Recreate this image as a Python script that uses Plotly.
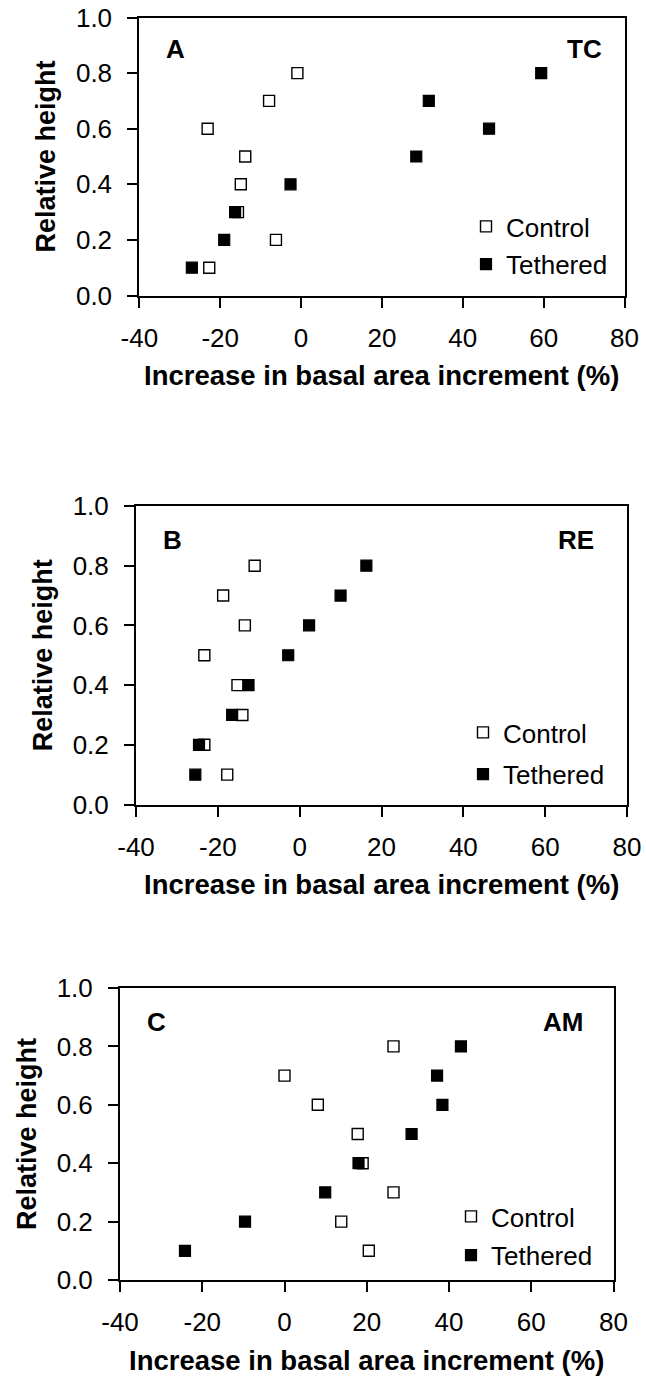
import plotly.graph_objects as go

# Relative sampling heights along the stem
heights = [0.1, 0.2, 0.3, 0.4, 0.5, 0.6, 0.7, 0.8]

# Increase in basal area increment (%) per species and treatment
tc_control = [-22.7, -6.2, -15.6, -14.9, -13.8, -23.1, -7.9, -0.9]
tc_tethered = [-27.0, -19.0, -16.3, -2.6, 28.5, 46.5, 31.6, 59.4]

re_control = [-17.7, -23.3, -14.0, -15.2, -23.3, -13.4, -18.7, -11.0]
re_tethered = [-25.5, -24.6, -16.5, -12.5, -2.8, 2.3, 10.0, 16.3]

am_control = [20.5, 13.8, 26.5, 19.0, 17.8, 8.1, 0.0, 26.5]
am_tethered = [-24.2, -9.6, 9.9, 18.0, 30.9, 38.4, 37.1, 42.9]

panel_letters = ["A", "B", "C"]
species_codes = ["TC", "RE", "AM"]
series_names = ["Control", "Tethered"]

x_ticks = [-40, -20, 0, 20, 40, 60, 80]
x_tick_text = ["-40", "-20", "0", "20", "40", "60", "80"]
y_ticks = [0.0, 0.2, 0.4, 0.6, 0.8, 1.0]
x_title = "Increase in basal area increment (%)"
y_title = "Relative height"

W, H = 646, 1377
FONT = "Liberation Sans, Arial, Helvetica, sans-serif"

# Plot frames in pixels: (left, right, top, bottom)
frames = [
    (139.3, 624.5, 17.5, 295.5),
    (136.0, 627.0, 506.0, 804.5),
    (120.0, 613.5, 988.0, 1280.0),
]
# Legend anchor (pixels, left / top of first entry) and row gap
legend_pos = [(466, 203, 1), (463, 709, 5), (451, 1193, 2)]
# Right edge of species code, in data units
code_x = [75.0, 72.5, 73.0]

panels = [
    (tc_control, tc_tethered),
    (re_control, re_tethered),
    (am_control, am_tethered),
]

fig = go.Figure()

for i, (ctrl, teth) in enumerate(panels):
    n = "" if i == 0 else str(i + 1)
    legend_name = "legend" + n
    fig.add_trace(go.Scatter(
        x=ctrl, y=heights, mode="markers", name=series_names[0],
        xaxis="x" + n, yaxis="y" + n, legend=legend_name,
        legendgroup=f"c{i}",
        marker=dict(symbol="square", size=11, color="white",
                    line=dict(color="black", width=1.4)),
    ))
    fig.add_trace(go.Scatter(
        x=teth, y=heights, mode="markers", name=series_names[1],
        xaxis="x" + n, yaxis="y" + n, legend=legend_name,
        legendgroup=f"t{i}",
        marker=dict(symbol="square", size=11, color="black",
                    line=dict(color="black", width=1.2)),
    ))

layout = dict(
    width=W, height=H,
    margin=dict(l=0, r=0, t=0, b=0, autoexpand=False),
    paper_bgcolor="white", plot_bgcolor="white",
    font=dict(family=FONT, color="black", size=26),
    annotations=[],
)

axis_common = dict(
    showline=True, linecolor="black", linewidth=2, mirror=True,
    ticks="outside", ticklen=10, tickwidth=2, tickcolor="black",
    showgrid=False, zeroline=False, automargin=False,
    tickfont=dict(family=FONT, size=26, color="black"),
)

for i, (l, r, t, b) in enumerate(frames):
    n = "" if i == 0 else str(i + 1)
    layout["xaxis" + n] = dict(
        axis_common,
        domain=[l / W, r / W], anchor="y" + n,
        range=[-40, 80], tickmode="array",
        tickvals=x_ticks, ticktext=x_tick_text,
        ticklabelstandoff=8,
    )
    layout["yaxis" + n] = dict(
        axis_common,
        domain=[1 - b / H, 1 - t / H], anchor="x" + n,
        range=[0, 1], tickmode="array", tickvals=y_ticks,
        tickformat=".1f", ticklabelstandoff=10,
        title=dict(text=f"<b>{y_title}</b>",
                   font=dict(family=FONT, size=27), standoff=12),
    )
    lx, ly, gap = legend_pos[i]
    layout["legend" + n] = dict(
        x=lx / W, y=1 - ly / H, xanchor="left", yanchor="top",
        bgcolor="rgba(0,0,0,0)", borderwidth=0,
        font=dict(family=FONT, size=26, color="black"),
        traceorder="grouped", tracegroupgap=gap, itemsizing="trace",
    )
    # x-axis title, centred under the frame
    layout["annotations"].append(dict(
        text=f"<b>{x_title}</b>", x=(l + r) / 2 / W, y=1 - (b + 80) / H,
        xref="paper", yref="paper", xanchor="center", yanchor="middle",
        showarrow=False, font=dict(family=FONT, size=27.5, color="black"),
    ))
    layout["annotations"].append(dict(
        text=f"<b>{panel_letters[i]}</b>", x=-34, y=0.885,
        xref="x" + n, yref="y" + n, xanchor="left", yanchor="middle",
        showarrow=False, font=dict(family=FONT, size=26, color="black"),
    ))
    layout["annotations"].append(dict(
        text=f"<b>{species_codes[i]}</b>", x=code_x[i], y=0.885,
        xref="x" + n, yref="y" + n, xanchor="right", yanchor="middle",
        showarrow=False, font=dict(family=FONT, size=26, color="black"),
    ))

fig.update_layout(**layout)
fig.write_html("out.html")
